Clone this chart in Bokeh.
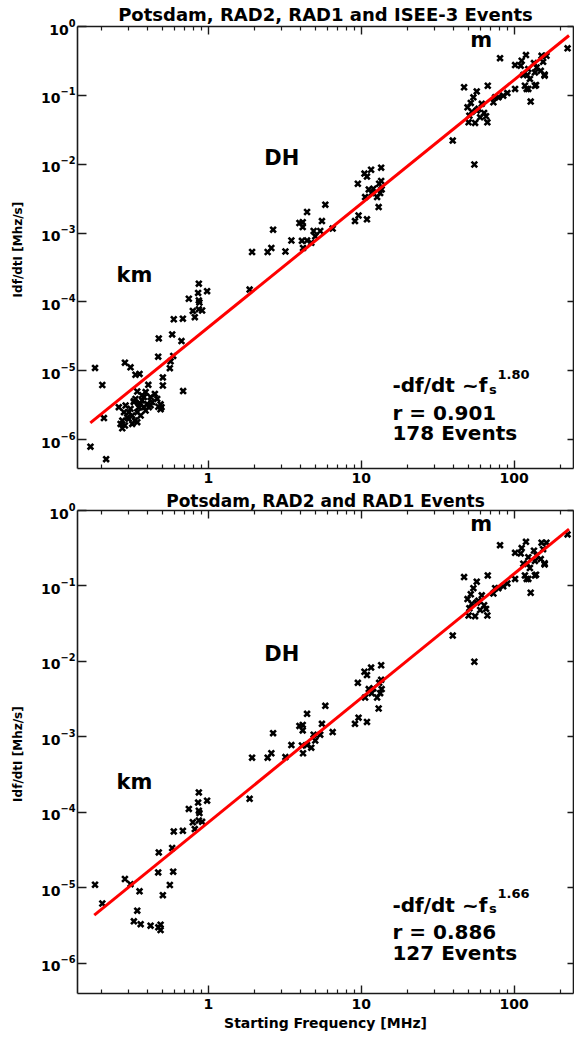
from bokeh.plotting import figure
from bokeh.models import (LogAxis, FixedTicker, LogTickFormatter, CustomJSTickFormatter,
                          Label, Range1d)
from bokeh.layouts import column
from bokeh.embed import file_html
from bokeh.resources import INLINE

FONT = "DejaVu Sans"

# ---------------- data ----------------
# km events from Potsdam / RAD2 / RAD1 (shown in both panels)
km_f = [0.865, 0.856, 0.98, 0.744, 0.865, 0.873, 0.865, 0.79, 0.814, 0.909, 0.593, 0.68,
        0.473, 0.579, 0.469, 0.588, 0.559, 0.503, 0.284, 0.309, 0.354, 0.181, 0.202, 0.342,
        0.325, 0.36, 0.418, 0.486, 0.486, 0.47]
km_r = [1.84e-4, 1.35e-4, 1.43e-4, 1.11e-4, 1.05e-4, 9.8e-5, 7.8e-5, 7.4e-5, 6.0e-5, 7.5e-5,
        5.6e-5, 5.7e-5, 2.95e-5, 3.37e-5, 1.6e-5, 1.64e-5, 1.09e-5, 8.0e-6, 1.31e-5, 1.12e-5,
        9.0e-6, 1.1e-5, 6.2e-6, 4.99e-6, 3.6e-6, 3.3e-6, 3.15e-6, 3.25e-6, 2.76e-6, 3.0e-6]

# DH events
dh_f = [1.93, 1.86, 2.44, 2.58, 3.19, 2.65, 3.49, 4.09, 4.16, 4.42, 3.94, 4.14, 4.14, 4.88,
        5.39, 5.53, 5.82, 4.71, 5.0, 6.5, 4.42, 9.5, 10.5, 11.6, 13.5, 10.9, 11.2, 11.7, 13.1,
        13.5, 13.3, 12.7, 10.6, 13.0, 9.6, 9.1, 10.9, 13.6, 12.0]
dh_r = [5.3e-4, 1.51e-4, 5.3e-4, 6.07e-4, 5.4e-4, 1.12e-3, 7.8e-4, 7.7e-4, 6.07e-4, 2.02e-3,
        1.4e-3, 1.22e-3, 1.44e-3, 1.07e-3, 1.07e-3, 1.49e-3, 2.58e-3, 7.2e-4, 8.95e-4, 1.16e-3,
        7.8e-4, 5.2e-3, 7.3e-3, 8.3e-3, 8.9e-3, 6.6e-3, 4.3e-3, 3.8e-3, 5.2e-3, 5.7e-3, 3.8e-3,
        3.33e-3, 3.33e-3, 2.38e-3, 1.8e-3, 1.49e-3, 1.58e-3, 4.3e-3, 4.4e-3]

# metric (m) events
m_f = [39.7, 55, 47.1, 54.2, 52.1, 67.3, 81, 49.6, 52.9, 51, 58.5, 61.5, 63.7, 60, 50.4, 55.6,
       65.6, 66.9, 57, 73.3, 79, 85, 90.4, 101.6, 75.2, 101.6, 119.7, 112.2, 124, 122, 137,
       140.6, 151.4, 163, 155, 158.5, 149.6, 127, 117.8, 124, 139.3, 128.5, 224, 135, 115, 57,
       110.6, 121, 137, 158.5]
m_r = [0.022, 9.9e-3, 0.131, 0.0935, 0.0776, 0.138, 0.347, 0.067, 0.058, 0.0507, 0.0637,
       0.0752, 0.0555, 0.048, 0.0406, 0.0398, 0.0497, 0.0406, 0.0603, 0.0794, 0.0935, 0.0989,
       0.108, 0.124, 0.0935, 0.275, 0.384, 0.318, 0.241, 0.197, 0.215, 0.254, 0.375, 0.375,
       0.307, 0.193, 0.227, 0.173, 0.138, 0.124, 0.141, 0.0813, 0.482, 0.294, 0.197, 0.114,
       0.27, 0.124, 0.138, 0.2]

# extra ISEE-3 km events (top panel only)
isee_f = [0.169, 0.214, 0.207, 0.683, 0.503, 0.565, 0.666, 0.333, 0.404, 0.388, 0.446, 0.259,
          0.287, 0.368, 0.397, 0.301, 0.342, 0.33, 0.273, 0.284, 0.273, 0.317, 0.378, 0.351,
          0.368, 0.325, 0.309, 0.418, 0.462, 0.266, 0.294, 0.36, 0.388, 0.333, 0.493, 0.351,
          0.407, 0.301, 0.342, 0.28, 0.317, 0.378, 0.428]
isee_r = [7.9e-7, 5.2e-7, 2.05e-6, 5.06e-6, 6.1e-6, 1.37e-5, 2.7e-5, 8.75e-6, 6.25e-6, 4.9e-6,
          4.6e-6, 2.96e-6, 3.13e-6, 4.4e-6, 3.3e-6, 2.5e-6, 2.5e-6, 1.89e-6, 1.89e-6, 1.6e-6,
          1.46e-6, 2.24e-6, 2.96e-6, 2.96e-6, 3.7e-6, 3.5e-6, 2.8e-6, 4.14e-6, 3.9e-6, 1.69e-6,
          2.1e-6, 2.24e-6, 2.64e-6, 3.9e-6, 2.96e-6, 3.3e-6, 2.96e-6, 2.0e-6, 1.79e-6, 2.5e-6,
          1.69e-6, 4.14e-6, 3.5e-6]

# power-law fit lines (end points)
fit1_f = [0.1686, 229.0]
fit1_r = [1.75e-6, 0.74]
fit2_f = [0.179, 229.0]
fit2_r = [4.36e-6, 0.567]

titles = ["Potsdam, RAD2, RAD1 and ISEE-3 Events", "Potsdam, RAD2 and RAD1 Events"]
exponents = ["1.80", "1.66"]
corr = ["r = 0.901", "r = 0.886"]
counts = ["178 Events", "127 Events"]

x_major = [1, 10, 100]
x_minor = [0.2, 0.3, 0.4, 0.5, 0.6, 0.7, 0.8, 0.9, 2, 3, 4, 5, 6, 7, 8, 9,
           20, 30, 40, 50, 60, 70, 80, 90, 200]
y_major = [1e-6, 1e-5, 1e-4, 1e-3, 1e-2, 1e-1, 1]

AX = "#1a1a1a"
DY = 8  # small upward nudge for text labels


def style_axis(ax, tick_in=8, minor=True, labels=True):
    ax.axis_line_color = AX
    ax.axis_line_width = 1.6
    ax.major_tick_line_color = AX
    ax.major_tick_line_width = 1.4
    ax.major_tick_in = tick_in
    ax.major_tick_out = 0
    if minor:
        ax.minor_tick_in = 4
        ax.minor_tick_out = 0
        ax.minor_tick_line_color = AX
        ax.minor_tick_line_width = 1.2
    else:
        ax.minor_tick_line_color = None
    ax.major_label_text_font = FONT
    ax.major_label_text_font_style = "bold"
    ax.major_label_text_color = "black"
    if labels:
        ax.major_label_text_font_size = "14px"
    else:
        ax.major_label_text_font_size = "0px"
        ax.major_label_standoff = 0


def panel(height, top_b, bottom_b, ymin, pts, fit_f, fit_r, idx, txt_pos, show_xlabel,
          title_size, title_standoff, xlab_standoff):
    p = figure(width=574, height=height, x_axis_type="log", y_axis_type="log",
               x_range=Range1d(0.139, 245), y_range=Range1d(ymin, 1.0),
               output_backend="svg", toolbar_location=None,
               title=titles[idx],
               min_border_left=77, min_border_right=1,
               min_border_top=top_b, min_border_bottom=bottom_b)
    p.title.align = "center"
    p.title.text_font = FONT
    p.title.text_font_style = "bold"
    p.title.text_font_size = title_size
    p.title.text_color = "black"
    p.title.standoff = title_standoff
    p.outline_line_color = None
    p.xgrid.visible = False
    p.ygrid.visible = False
    p.background_fill_color = "white"
    p.border_fill_color = "white"

    # bottom x axis
    xa = p.below[0]
    xa.ticker = FixedTicker(ticks=x_major, minor_ticks=x_minor)
    xa.formatter = CustomJSTickFormatter(code="return tick.toFixed(0)")
    style_axis(xa)
    xa.major_label_standoff = xlab_standoff
    if show_xlabel:
        xa.axis_label = "Starting Frequency [MHz]"
        xa.axis_label_text_font = FONT
        xa.axis_label_text_font_style = "bold"
        xa.axis_label_text_font_size = "14px"
        xa.axis_label_text_color = "black"
        xa.axis_label_standoff = 3

    # left y axis
    ya = p.left[0]
    ya.ticker = FixedTicker(ticks=y_major, minor_ticks=[])
    ya.formatter = LogTickFormatter()
    style_axis(ya, tick_in=9, minor=False)
    ya.major_label_standoff = 2
    ya.axis_label = "Idf/dtI  [Mhz/s]"
    ya.axis_label_text_font = FONT
    ya.axis_label_text_font_style = "bold"
    ya.axis_label_text_font_size = "12px"
    ya.axis_label_text_color = "black"
    ya.axis_label_standoff = 13

    # top and right axes (ticks only)
    ta = LogAxis(ticker=FixedTicker(ticks=x_major, minor_ticks=x_minor),
                 formatter=CustomJSTickFormatter(code="return ''"))
    style_axis(ta, labels=False)
    p.add_layout(ta, "above")
    ra = LogAxis(ticker=FixedTicker(ticks=y_major, minor_ticks=[]),
                 formatter=CustomJSTickFormatter(code="return ''"))
    style_axis(ra, tick_in=6, minor=False, labels=False)
    p.add_layout(ra, "right")

    for f, r in pts:
        p.scatter(f, r, marker="x", size=8, line_width=2.6, color="black")
    p.line(fit_f, fit_r, line_color="#ff0000", line_width=3)

    for (xx, yy), t in zip(txt_pos, ("DH", "km", "m")):
        p.add_layout(Label(x=xx, y=yy, y_offset=DY, text=t, text_font=FONT,
                           text_font_style="bold", text_font_size="21px", text_color="black",
                           text_align="left", text_baseline="alphabetic"))

    common = dict(text_font=FONT, text_font_style="bold", text_color="black",
                  text_align="left", text_baseline="alphabetic")
    ax0, ay0 = 16.0, 4.7e-6
    p.add_layout(Label(x=ax0, y=ay0, y_offset=DY, text="-df/dt ~f",
                       text_font_size="20px", **common))
    p.add_layout(Label(x=ax0, y=ay0, x_offset=96.5, y_offset=DY - 4, text="s",
                       text_font_size="13px", **common))
    p.add_layout(Label(x=ax0, y=ay0, x_offset=105, y_offset=DY + 11, text=exponents[idx],
                       text_font_size="13px", **common))
    p.add_layout(Label(x=ax0, y=ay0, y_offset=DY - 27.5, text=corr[idx],
                       text_font_size="20px", **common))
    p.add_layout(Label(x=ax0, y=ay0, y_offset=DY - 48, text=counts[idx],
                       text_font_size="20px", **common))
    return p


p1 = panel(488, 26, 20, 10 ** -6.42,
           [(km_f, km_r), (isee_f, isee_r), (dh_f, dh_r), (m_f, m_r)],
           fit1_f, fit1_r, 0,
           ((2.32, 9.5e-3), (0.25, 1.9e-4), (51.7, 0.495)), False, "18px", 3, 4)
p2 = panel(549, 20, 44, 10 ** -6.4,
           [(km_f, km_r), (dh_f, dh_r), (m_f, m_r)],
           fit2_f, fit2_r, 1,
           ((2.32, 9.9e-3), (0.25, 2.0e-4), (51.7, 0.513)), True, "17px", 0, 5)

layout = column(p1, p2, spacing=0)
open("out.html", "w").write(file_html(layout, INLINE))
